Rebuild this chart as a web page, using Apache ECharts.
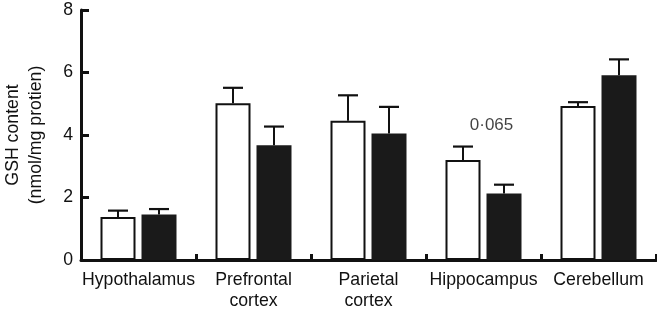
<!DOCTYPE html>
<html>
<head>
<meta charset="utf-8">
<script src="https://cdn.jsdelivr.net/npm/echarts@6/dist/echarts.min.js"></script>
<style>
  html, body { margin: 0; padding: 0; background: #fff; }
  #chart { width: 657px; height: 311px; }
</style>
</head>
<body>
<div id="chart"></div>
<script>
// brain regions
const categories = ['Hypothalamus', 'Prefrontal\ncortex', 'Parietal\ncortex', 'Hippocampus', 'Cerebellum']
// open bars / filled bars, means and upper error-bar ends
const openMean = [1.38, 5.02, 4.46, 3.2, 4.93]
const openUpper = [1.58, 5.51, 5.27, 3.63, 5.05]
const filledMean = [1.46, 3.67, 4.05, 2.13, 5.91]
const filledUpper = [1.63, 4.27, 4.9, 2.41, 6.42]
const yTicks = [0, 2, 4, 6, 8]
// p-value note
const note = { category: 'Hippocampus', value: 4.3, text: '0·065' }

const FONT = 'Liberation Sans, Arial, Helvetica, sans-serif'
const FS = 17.7
const BAR_W = 35
const BAR_GAP = 6

const chart = echarts.init(document.getElementById('chart'))

// upper-only error bar, shifted onto its bar
function errorSeries(means, uppers, shift) {
  return {
    type: 'custom',
    silent: true,
    z: 5,
    data: means.map((m, i) => [i, m, uppers[i]]),
    renderItem: (params, api) => {
      const top = api.coord([api.value(0), api.value(2)])
      const base = api.coord([api.value(0), api.value(1)])
      const x = top[0] + shift
      const half = 10
      return {
        type: 'group',
        children: [
          { type: 'line', shape: { x1: x, y1: base[1], x2: x, y2: top[1] }, style: { stroke: '#111', lineWidth: 2 } },
          { type: 'line', shape: { x1: x - half, y1: top[1], x2: x + half, y2: top[1] }, style: { stroke: '#111', lineWidth: 2.2 } }
        ]
      }
    }
  }
}

const off = (BAR_W + BAR_GAP) / 2

chart.setOption({
  backgroundColor: '#fff',
  animation: false,
  grid: { left: 81, right: 1, top: 10, bottom: 51, containLabel: false, outerBoundsMode: 'none' },
  xAxis: {
    type: 'category',
    data: categories,
    axisLine: { lineStyle: { color: '#111', width: 3 } },
    axisTick: { show: true, inside: true, length: 6, interval: 0, lineStyle: { color: '#111', width: 3 } },
    axisLabel: { interval: 0, color: '#111', fontSize: FS, fontFamily: FONT, margin: 10, lineHeight: 21 }
  },
  yAxis: {
    type: 'value',
    min: yTicks[0],
    max: yTicks[yTicks.length - 1],
    interval: 2,
    name: 'GSH content\n(nmol/mg protien)',
    nameLocation: 'middle',
    nameGap: 33,
    nameTextStyle: { color: '#111', fontSize: FS, fontFamily: FONT, lineHeight: 23 },
    axisLine: { show: true, lineStyle: { color: '#111', width: 3 } },
    axisTick: { show: true, inside: true, length: 8, lineStyle: { color: '#111', width: 3 } },
    axisLabel: { color: '#111', fontSize: FS, fontFamily: FONT, margin: 8 },
    splitLine: { show: false }
  },
  series: [
    {
      name: 'open',
      type: 'bar',
      data: openMean,
      barWidth: BAR_W,
      barGap: (BAR_GAP / BAR_W * 100) + '%',
      itemStyle: { color: '#fff', borderColor: '#111', borderWidth: 2 }
    },
    {
      name: 'filled',
      type: 'bar',
      data: filledMean,
      barWidth: BAR_W,
      itemStyle: { color: '#1a1a1a', borderColor: '#1a1a1a', borderWidth: 0 }
    },
    errorSeries(openMean, openUpper, -off),
    errorSeries(filledMean, filledUpper, off),
    {
      type: 'scatter',
      silent: true,
      symbolSize: 0,
      data: [[categories.indexOf(note.category), note.value]],
      label: {
        show: true,
        formatter: note.text,
        position: 'inside',
        offset: [8, 0],
        color: '#111',
        fontSize: 17,
        fontFamily: FONT
      }
    }
  ]
})
</script>
</body>
</html>
